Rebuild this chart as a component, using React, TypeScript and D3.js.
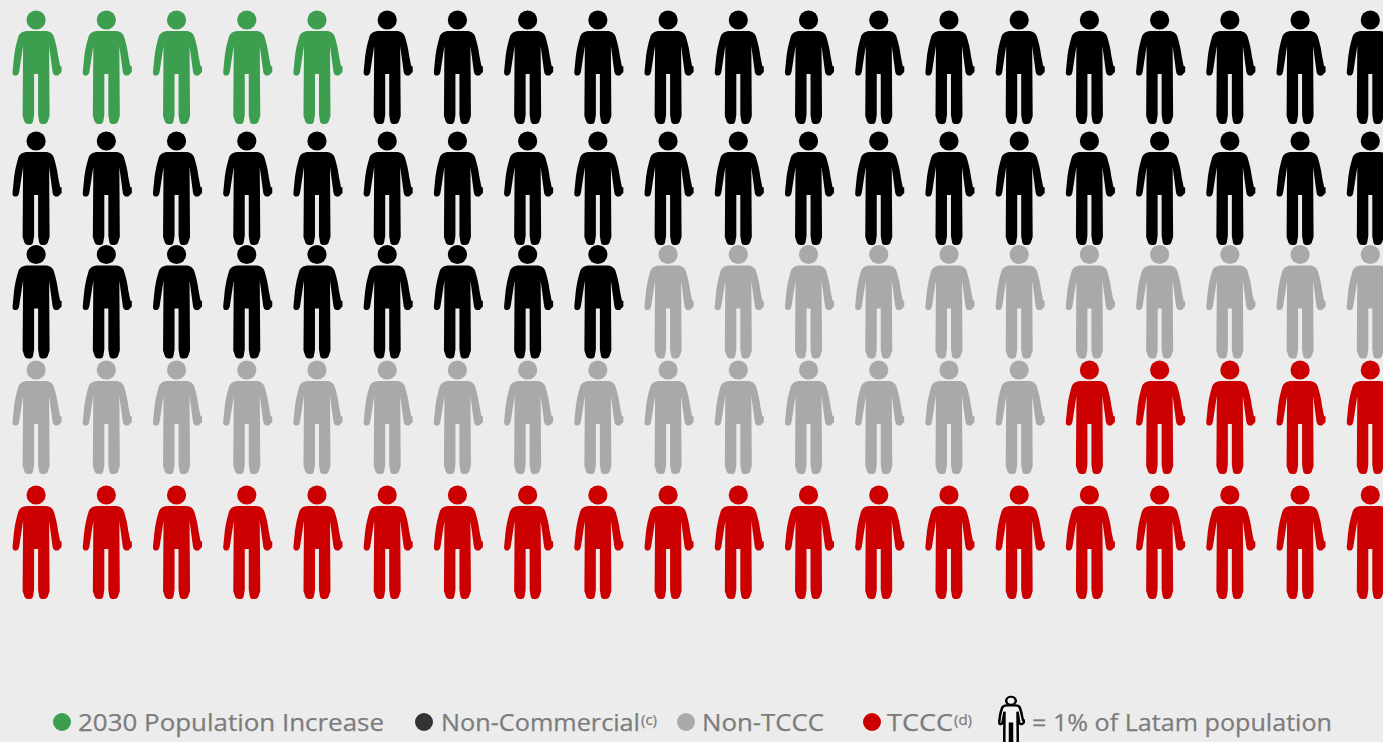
import React from "react";
import * as d3 from "d3";

// Share of the population per segment; one figure stands for 1%.
const segmentNames = ["2030 Population Increase", "Non-Commercial", "Non-TCCC", "TCCC"];
const segmentCounts = [5, 44, 26, 25];
const segmentColors = ["#3d9e50", "#000000", "#a9a9a9", "#cc0000"];
const legendDotColors = ["#3d9e50", "#333333", "#a9a9a9", "#cc0000"];
const legendNotes = ["", "(c)", "", "(d)"];
const keyText = "= 1% of Latam population";

const WIDTH = 1383;
const HEIGHT = 742;
const COLUMNS = 20;
const ROWS = 5;
const ROW_TOPS = [11, 132, 245.5, 361, 486];
const LEGEND_DOT_X = [62, 424, 686, 872];
const LEGEND_TEXT = [
  { x: 78, w: 306 },
  { x: 441, w: 199 },
  { x: 702, w: 122 },
  { x: 887, w: 66 },
];
const NOTE_X = [0, 641, 0, 954];
const FONT = "'Open Sans', 'Noto Sans', sans-serif";

// Pictogram outline, 0 at the figure's vertical axis and at the top of its head.
const BODY_PATH =
  "M-8,20 L9,20 C14,20 17,22.5 18,26.5 C20,33 21,38 22,45 L24,55 L25.5,55.5 L25.5,61 L22,64.5 " +
  "L19,64.5 Q17,64 16.5,61 L13,35 L13.5,105 L11.5,111 Q10.5,113 8,113 L6,113 Q3.5,113 3,110 " +
  "L2,104 L2,63 L-2,63 L-2,104 L-3,110 Q-3.5,113 -6,113 L-8,113 Q-10.5,113 -11.5,111 L-13.5,105 " +
  "L-13,35 L-17,61 Q-18,64.5 -20,64.5 L-22,64.5 Q-24,63.5 -23.5,60 L-22,45 C-21,38 -20,33 -18,26.5 " +
  "C-17,22.5 -14,20 -8,20 Z";

const HEAD_CY = 9;
const HEAD_R = 9.6;

function Figure({ x, y, fill, scaleX = 1, scaleY = 1, stroke, strokeWidth }: {
  x: number; y: number; fill: string; scaleX?: number; scaleY?: number; stroke?: string; strokeWidth?: number;
}) {
  return (
    <g transform={`translate(${x},${y}) scale(${scaleX},${scaleY})`} fill={fill} stroke={stroke} strokeWidth={strokeWidth}>
      <circle cx={0} cy={HEAD_CY} r={HEAD_R} />
      <path d={BODY_PATH} />
    </g>
  );
}

export default function App() {
  const xScale = d3.scaleLinear().domain([0, COLUMNS - 1]).range([36.1, 1370.3]);
  const yScale = d3.scaleOrdinal<number, number>().domain(d3.range(ROWS)).range(ROW_TOPS);

  // Expand the counts into one colour per figure, filled row by row.
  const figures = segmentCounts.flatMap((count, s) => d3.range(count).map(() => segmentColors[s]));

  return (
    <svg
      width={WIDTH}
      height={HEIGHT}
      viewBox={`0 0 ${WIDTH} ${HEIGHT}`}
      style={{ position: "absolute", left: 0, top: 0, display: "block" }}
    >
      <rect width={WIDTH} height={HEIGHT} fill="#ececec" />
      {figures.map((color, i) => (
        <Figure
          key={i}
          x={xScale(i % COLUMNS)}
          y={yScale(Math.floor(i / COLUMNS))}
          fill={color}
        />
      ))}
      <g fontFamily={FONT} fill="#7c7c7c" fontSize={23} stroke="#7c7c7c" strokeWidth={0.25}>
        {segmentNames.map((name, i) => (
          <g key={name}>
            <ellipse cx={LEGEND_DOT_X[i]} cy={722} rx={9} ry={9} fill={legendDotColors[i]} stroke="none" />
            <text
              x={LEGEND_TEXT[i].x}
              y={731}
              textLength={LEGEND_TEXT[i].w}
              lengthAdjust="spacingAndGlyphs"
            >
              {name}
            </text>
            {legendNotes[i] && (
              <text x={NOTE_X[i]} y={725} fontSize={15}>
                {legendNotes[i]}
              </text>
            )}
          </g>
        ))}
        <text x={1032} y={731} textLength={300} lengthAdjust="spacingAndGlyphs">
          {keyText}
        </text>
      </g>
      <Figure x={1011} y={697} fill="#f4f4f4" scaleX={0.5} scaleY={0.42} stroke="#000000" strokeWidth={5} />
    </svg>
  );
}
